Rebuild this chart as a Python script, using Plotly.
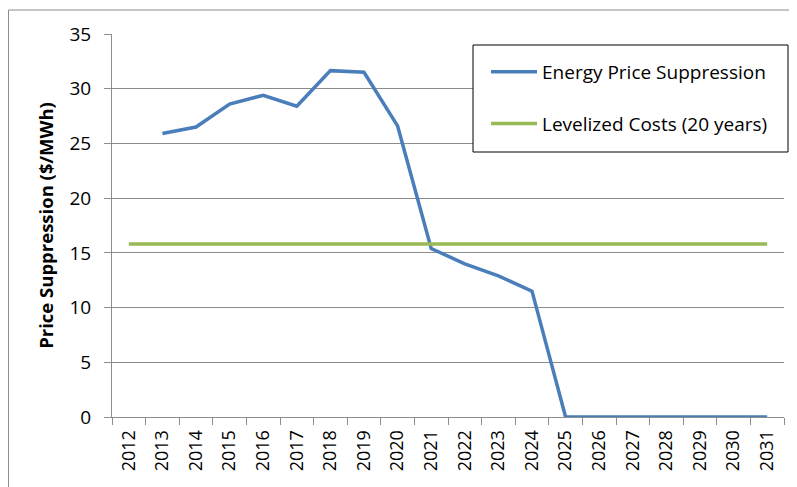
import plotly.graph_objects as go

years = [str(y) for y in range(2012, 2032)]
suppression = [None, 25.9, 26.5, 28.6, 29.4, 28.4, 31.65, 31.5, 26.6, 15.4,
               14.0, 12.9, 11.5, 0, 0, 0, 0, 0, 0, 0]
levelized = [15.8, 15.8, 15.8, 15.8, 15.8, 15.8, 15.8, 15.8, 15.8, 15.8,
             15.8, 15.8, 15.8, 15.8, 15.8, 15.8, 15.8, 15.8, 15.8, 15.8]
y_ticks = [0, 5, 10, 15, 20, 25, 30, 35]

FONT = "Open Sans"
W, H = 797, 487
L, R, T, B = 104, 21, 26, 78
pw, ph = W - L - R, H - T - B

fig = go.Figure()
fig.add_trace(go.Scatter(x=years, y=suppression, mode="lines",
                         name="Energy Price Suppression", legendgroup="a",
                         line=dict(color="#4A7EBB", width=3.5)))
fig.add_trace(go.Scatter(x=years, y=levelized, mode="lines",
                         name="Levelized Costs (20 years)", legendgroup="b",
                         line=dict(color="#98B954", width=3.5)))


def px_x(p):
    return (p - L) / pw


def px_y(p):
    return (H - B - p) / ph


grey = "#8c8c8c"
# chart-area border (top and left edges visible)
fig.add_shape(type="line", xref="paper", yref="paper",
              x0=px_x(0.5), x1=px_x(0.5), y0=px_y(490), y1=px_y(2),
              line=dict(color=grey, width=1))
fig.add_shape(type="line", xref="paper", yref="paper",
              x0=px_x(0.5), x1=px_x(800), y0=px_y(2), y1=px_y(2),
              line=dict(color=grey, width=1))
# legend box
fig.add_shape(type="rect", xref="paper", yref="paper", layer="above",
              x0=px_x(465), x1=px_x(780), y0=px_y(144), y1=px_y(37),
              fillcolor="white", line=dict(color="#000000", width=1))

fig.update_layout(
    width=W, height=H,
    margin=dict(l=L, r=R, t=T, b=B),
    paper_bgcolor="white", plot_bgcolor="white",
    font=dict(family=FONT, color="#000000", size=19),
    showlegend=True,
    legend=dict(x=px_x(478), xanchor="left", y=px_y(45), yanchor="top",
                bgcolor="rgba(0,0,0,0)", borderwidth=0,
                font=dict(family=FONT, size=19), tracegroupgap=24,
                itemwidth=46),
    xaxis=dict(type="category", range=[-0.5, 19.5], tickson="boundaries",
               ticks="outside", ticklen=7, tickcolor=grey, tickangle=-90,
               showline=True, linecolor=grey, linewidth=1, showgrid=False,
               ticklabelstandoff=5, tickfont=dict(size=18)),
    yaxis=dict(range=[0, 35], tickvals=y_ticks, ticks="outside", ticklen=7,
               tickcolor=grey, showline=True, linecolor=grey, linewidth=1,
               showgrid=True, gridcolor=grey, gridwidth=1, zeroline=False,
               ticklabelstandoff=9, tickfont=dict(size=19),
               title=dict(text="<b>Price Suppression ($/MWh)</b>",
                          font=dict(size=18.5), standoff=10)),
)

fig.write_html("out.html")
